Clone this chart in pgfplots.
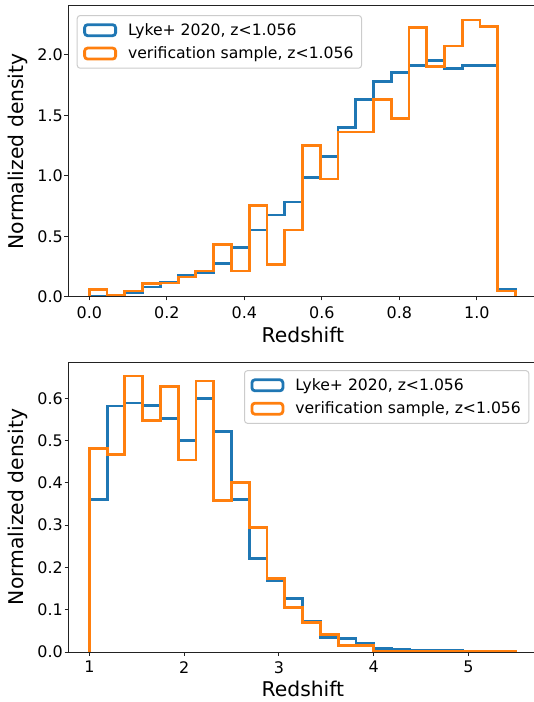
\documentclass[border=0pt]{standalone}
\usepackage{pgfplots}
\pgfplotsset{compat=1.18}
\usepackage{pgfplotstable}
\usepackage{fontspec}
\setmainfont{DejaVu Sans}
\definecolor{c0}{HTML}{1F77B4}
\definecolor{c1}{HTML}{FF7F0E}
\definecolor{spine}{HTML}{222222}
\definecolor{legedge}{HTML}{CCCCCC}

% top panel: 24 bins from 0 to 1.1
\pgfplotstableread{
x y
0 0
0 0.008
0.0458 0.016
0.0917 0.036
0.1375 0.083
0.1833 0.122
0.2292 0.175
0.2750 0.200
0.3208 0.280
0.3667 0.410
0.4125 0.554
0.4583 0.678
0.5042 0.785
0.5500 0.989
0.5958 1.160
0.6417 1.400
0.6875 1.634
0.7333 1.780
0.7792 1.854
0.8250 1.910
0.8708 1.956
0.9167 1.890
0.9625 1.910
1.0083 1.910
1.0542 0.066
1.1000 0
}\topblue
\pgfplotstableread{
x y
0 0
0 0.060
0.0458 0.011
0.0917 0.050
0.1375 0.112
0.1833 0.115
0.2292 0.165
0.2750 0.215
0.3208 0.435
0.3667 0.215
0.4125 0.758
0.4583 0.270
0.5042 0.554
0.5500 1.250
0.5958 0.975
0.6417 1.364
0.6875 1.364
0.7333 1.634
0.7792 1.474
0.8250 2.229
0.8708 1.907
0.9167 2.074
0.9625 2.289
1.0083 2.234
1.0542 0.050
1.1000 0
}\toporange
% bottom panel: 24 bins from 1 to 5.5
\pgfplotstableread{
x y
1.0000 0
1.0000 0.361
1.1875 0.582
1.3750 0.589
1.5625 0.583
1.7500 0.552
1.9375 0.500
2.1250 0.600
2.3125 0.522
2.5000 0.361
2.6875 0.221
2.8750 0.169
3.0625 0.127
3.2500 0.073
3.4375 0.034
3.6250 0.031
3.8125 0.020
4.0000 0.0087
4.1875 0.006
4.3750 0.003
4.5625 0.003
4.7500 0.003
4.9375 0.0005
5.1250 0.0005
5.3125 0.0005
5.5000 0
}\botblue
\pgfplotstableread{
x y
1.0000 0
1.0000 0.481
1.1875 0.467
1.3750 0.653
1.5625 0.548
1.7500 0.628
1.9375 0.454
2.1250 0.641
2.3125 0.359
2.5000 0.401
2.6875 0.294
2.8750 0.174
3.0625 0.106
3.2500 0.069
3.4375 0.042
3.6250 0.016
3.8125 0.016
4.0000 0.001
4.1875 0.001
4.3750 0.001
4.5625 0.001
4.7500 0.001
4.9375 0.001
5.1250 0.001
5.3125 0.001
5.5000 0
}\botorange

\pgfplotsset{
  histax/.style={
    scale only axis, width=466bp,
    axis lines*=left,
    axis line style={spine, line width=1bp},
    tick align=outside, major tick length=3.5bp,
    tick style={spine, line width=1bp},
    axis on top,
    tick label style={font=\fontsize{16}{19}\selectfont, inner sep=0pt},
    xticklabel style={yshift=-5.5bp},
    yticklabel style={xshift=-1.5bp},
    every axis x label/.style={at={(axis description cs:0.504,-0.101)}, anchor=north, inner sep=0pt, font=\fontsize{20.4}{24}\selectfont},
    every axis y label/.style={at={(axis description cs:-0.1067,0.5)}, anchor=center, rotate=90, inner sep=0pt, font=\fontsize{20.4}{24}\selectfont},
    xlabel={Redshift}, ylabel={Normalized density},
    ymin=0,
    legend cell align=left,
    legend image code/.code={\draw[#1, line width=2.8bp] (0bp,-5.5bp) rectangle (31bp,5.5bp);},
    legend style={draw=legedge, line width=1bp, rounded corners=3bp, fill=white, fill opacity=0.8, text opacity=1,
      font=\fontsize{15.7}{18}\selectfont, inner xsep=6bp, inner ysep=6bp, row sep=6bp,
      /tikz/every odd column/.append style={column sep=9bp}},
  },
  hist/.style={const plot, line width=2.8bp, line join=miter, no marks},
}

\begin{document}
\begin{tikzpicture}
\path[use as bounding box] (0,0) rectangle (534bp,702bp);
% top panel
\begin{axis}[histax, at={(68bp,405bp)}, anchor=south west, height=291bp,
  xmin=-0.055, xmax=1.1476, ymax=2.405,
  xtick={0,0.2,0.4,0.6,0.8,1.0}, xticklabels={0.0,0.2,0.4,0.6,0.8,1.0},
  ytick={0,0.5,1,1.5,2}, yticklabels={0.0,0.5,1.0,1.5,2.0},
  legend style={at={(0.0187,0.969)}, anchor=north west}]
\addplot[hist, c0] table[x=x, y=y] {\topblue};
\addlegendentry{Lyke+ 2020, z<1.056}
\addplot[hist, c1] table[x=x, y=y] {\toporange};
\addlegendentry{verification sample, z<1.056}
\draw[spine, line width=1bp] (rel axis cs:0,1) -- (rel axis cs:1,1);
\end{axis}
% bottom panel
\begin{axis}[histax, at={(68bp,50bp)}, anchor=south west, height=290bp,
  xmin=0.775, xmax=5.691, ymax=0.686,
  xtick={1,2,3,4,5}, xticklabels={1,2,3,4,5},
  ytick={0,0.1,0.2,0.3,0.4,0.5,0.6}, yticklabels={0.0,0.1,0.2,0.3,0.4,0.5,0.6},
  legend style={at={(0.99,0.972)}, anchor=north east}]
\addplot[hist, c0] table[x=x, y=y] {\botblue};
\addlegendentry{Lyke+ 2020, z<1.056}
\addplot[hist, c1] table[x=x, y=y] {\botorange};
\addlegendentry{verification sample, z<1.056}
\draw[spine, line width=1bp] (rel axis cs:0,1) -- (rel axis cs:1,1);
\end{axis}
\end{tikzpicture}
\end{document}
